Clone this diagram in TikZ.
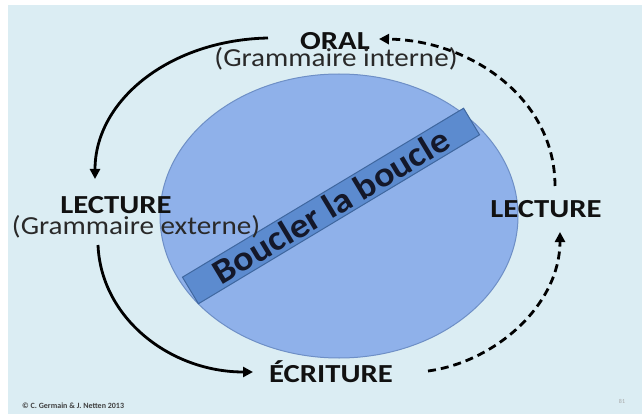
\documentclass[tikz,border=0pt]{standalone}
\usepackage{fontspec}
\setmainfont{Carlito}
\newfontfamily\lblfont{Carlito}[FakeStretch=1.18]
\newfontfamily\subfont{Carlito}[FakeStretch=1.12]
\newfontfamily\bandfont{Carlito}[FakeStretch=1.08]
\usetikzlibrary{arrows.meta,shapes.geometric}
\definecolor{bgblue}{HTML}{DBEDF3}
\definecolor{ellfill}{HTML}{8FB1EA}
\definecolor{elldraw}{HTML}{6E8FC6}
\definecolor{bandfill}{HTML}{5C8BCF}
\definecolor{banddraw}{HTML}{3F679F}
\definecolor{txt}{HTML}{111111}
\definecolor{bandtxt}{HTML}{14182A}
\tikzset{
  lbl/.style={anchor=base, font=\lblfont\fontsize{26}{30}\selectfont\bfseries, text=txt, inner sep=0pt},
  sublbl/.style={anchor=base, font=\subfont\fontsize{26}{30}\selectfont, text=txt!90, inner sep=0pt},
  conn/.style={line width=2.8pt, -{Triangle[length=10pt,width=10pt]}, black},
  dconn/.style={conn, dash pattern=on 8pt off 5pt},
}
\begin{document}
\begin{tikzpicture}[x=1pt,y=-1pt]
\useasboundingbox (0,0) rectangle (642,414);
\fill[white] (0,0) rectangle (642,414);
\fill[bgblue] (8,5) rectangle (642,414);
% ellipse
\node[ellipse, draw=elldraw, fill=ellfill, line width=1pt, minimum width=358pt, minimum height=284pt, inner sep=0pt] (ell) at (339,216) {};
% band
\node[rotate=31, draw=banddraw, fill=bandfill, line width=1pt, minimum width=328pt, minimum height=31pt, inner sep=0pt, text=bandtxt, font=\bandfont\fontsize{35}{38}\selectfont\bfseries] (band) at (331,206) {Boucler la boucle};
% labels
\node[lbl] (oral) at (335,50) {ORAL};
\node[sublbl] (oralsub) at (336,67) {(Grammaire interne)};
\node[lbl] (lectL) at (116,214) {LECTURE};
\node[sublbl] (lectLsub) at (136,234) {(Grammaire externe)};
\node[lbl] (lectR) at (546,218) {LECTURE};
\node[lbl] (ecrit) at (331,382) {ÉCRITURE};
% connector endpoints
\coordinate (a1s) at (268,38);
\coordinate (a1e) at (95,179);
\coordinate (a2s) at (98,245);
\coordinate (a2e) at (253,372);
\coordinate (a3s) at (428,371);
\coordinate (a3e) at (560,232);
\coordinate (a4s) at (555,186);
\coordinate (a4e) at (379,39);
\draw[conn] (a1s) .. controls (170,40) and (95,100) .. (a1e);
\draw[conn] (a2s) .. controls (101,318) and (170,372) .. (a2e);
\draw[dconn] (a3s) .. controls (495,362) and (560,305) .. (a3e);
\draw[dconn] (a4s) .. controls (555,98) and (470,40) .. (a4e);
% footer
\node[anchor=base west, inner sep=0pt, font=\fontsize{8}{9}\selectfont\bfseries, text=black!75] (copy) at (22,408) {© C. Germain \& J. Netten 2013};
\node[anchor=base, inner sep=0pt, font=\fontsize{6}{7}\selectfont, text=black!35] (pg) at (622,403) {81};
\end{tikzpicture}
\end{document}
